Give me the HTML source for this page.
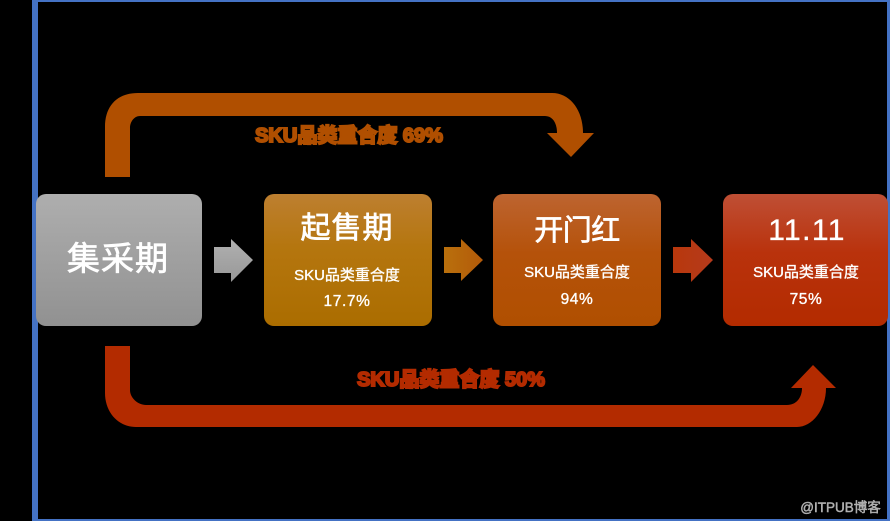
<!DOCTYPE html>
<html lang="zh">
<head>
<meta charset="utf-8">
<style>
html,body{margin:0;padding:0;background:#000;width:890px;height:521px;overflow:hidden}
svg{display:block}
text{font-family:"Liberation Sans","Noto Sans CJK SC",sans-serif;text-anchor:middle}
.w{fill:#fff;stroke:#fff;stroke-width:.35px}
.t{stroke-width:.7px}
.lab{font-size:20px;font-weight:700;stroke-width:2px}
</style>
</head>
<body>
<svg width="890" height="521" viewBox="0 0 890 521" xmlns="http://www.w3.org/2000/svg">
<defs>
<linearGradient id="g0" x1="0" y1="0" x2="0" y2="1"><stop offset="0" stop-color="#aeaeae"/><stop offset="1" stop-color="#919191"/></linearGradient>
<linearGradient id="g1" x1="0" y1="0" x2="0" y2="1"><stop offset="0" stop-color="#bd7f30"/><stop offset=".4" stop-color="#b5760f"/><stop offset="1" stop-color="#ab6d00"/></linearGradient>
<linearGradient id="g2" x1="0" y1="0" x2="0" y2="1"><stop offset="0" stop-color="#bd6430"/><stop offset=".45" stop-color="#b5520a"/><stop offset="1" stop-color="#b04f00"/></linearGradient>
<linearGradient id="g3" x1="0" y1="0" x2="0" y2="1"><stop offset="0" stop-color="#bf4f35"/><stop offset=".45" stop-color="#b9320c"/><stop offset="1" stop-color="#b32b00"/></linearGradient>
<linearGradient id="a0" x1="0" y1="0" x2="0" y2="1"><stop offset="0" stop-color="#b0b0b0"/><stop offset="1" stop-color="#989898"/></linearGradient>
<linearGradient id="a1" x1="0" y1="0" x2="1" y2="0"><stop offset="0" stop-color="#b9700c"/><stop offset="1" stop-color="#b35a0a"/></linearGradient>
<linearGradient id="a2" x1="0" y1="0" x2="1" y2="0"><stop offset="0" stop-color="#b8380c"/><stop offset="1" stop-color="#b53a1c"/></linearGradient>
</defs>

<!-- blue frame -->
<rect x="32" y="0" width="6" height="521" fill="#4472c4"/>
<rect x="32" y="0" width="858" height="2" fill="#4472c4"/>
<rect x="887" y="0" width="3" height="521" fill="#4472c4"/>
<rect x="32" y="519" width="858" height="2" fill="#4472c4"/>

<!-- top arrow -->
<path fill="#b04f00" d="M105 177V127C105 105 118 93 138 93H552C570 93 583 110 583 133H594L571 157L547 133H557C557 122 552 116 545 116H140C134 116 130 122 130 128V177Z"/>
<!-- bottom arrow -->
<path fill="#b32b00" d="M105 346H130V390C130 398 138 405 146 405H787C796 405 802 398 802 388H791L813 365L836 388H826C826 410 812 427 797 427H136C118 427 105 412 105 393Z"/>

<!-- boxes -->
<rect x="36" y="194" width="166" height="132" rx="10" fill="url(#g0)"/>
<rect x="264" y="194" width="168" height="132" rx="10" fill="url(#g1)"/>
<rect x="493" y="194" width="168" height="132" rx="10" fill="url(#g2)"/>
<rect x="723" y="194" width="165" height="132" rx="10" fill="url(#g3)"/>

<!-- small arrows -->
<path fill="url(#a0)" d="M214 247H231V239L253 260L231 282V273H214Z"/>
<path fill="url(#a1)" d="M444 247H461V239L483 260L461 281V273H444Z"/>
<path fill="url(#a2)" d="M673 247H691V239L713 260L691 282V273H673Z"/>

<!-- box text -->
<text class="w t" x="118" y="270" font-size="33" letter-spacing="1">集采期</text>
<text class="w t" x="347" y="238" font-size="30" letter-spacing="1">起售期</text>
<text class="w" x="347" y="280" font-size="15">SKU品类重合度</text>
<text class="w" x="347" y="306" font-size="15.5" letter-spacing=".6">17.7%</text>
<text class="w t" x="577" y="240" font-size="29" letter-spacing="-.5">开门红</text>
<text class="w" x="577" y="277" font-size="15">SKU品类重合度</text>
<text class="w" x="577" y="304" font-size="15.5" letter-spacing=".6">94%</text>
<text class="w" x="807" y="240" font-size="30" letter-spacing="1.4">11.11</text>
<text class="w" x="806" y="277" font-size="15">SKU品类重合度</text>
<text class="w" x="806" y="304" font-size="15.5" letter-spacing=".6">75%</text>

<!-- connector labels -->
<text class="lab" x="349" y="142" fill="#b04f00" stroke="#b04f00">SKU品类重合度 69%</text>
<text class="lab" x="451" y="386" fill="#b32b00" stroke="#b32b00">SKU品类重合度 50%</text>

<!-- watermark -->
<text x="840.5" y="512" font-size="13.5" fill="#b0b0b0" stroke="#b0b0b0" stroke-width=".5">@ITPUB博客</text>
</svg>
</body>
</html>
